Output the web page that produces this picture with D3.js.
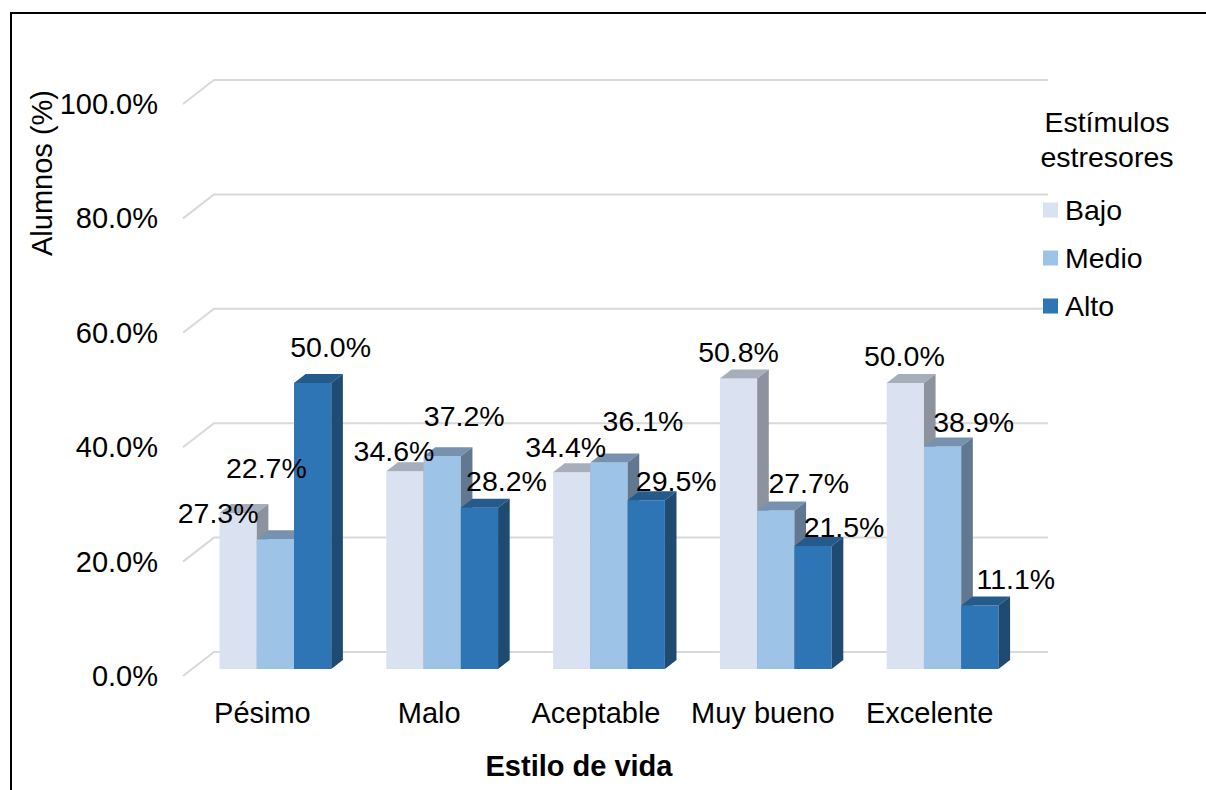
<!DOCTYPE html>
<html><head><meta charset="utf-8">
<script src="https://cdn.jsdelivr.net/npm/d3@7"></script>
<style>body{margin:0;background:#fff} text{font-family:Arial,"Liberation Sans",sans-serif;fill:#000}</style>
</head><body><svg id="c" width="1206" height="790"></svg>
<script>
// ---- data ----
const categories = ["Pésimo", "Malo", "Aceptable", "Muy bueno", "Excelente"];
const seriesNames = ["Bajo", "Medio", "Alto"];
const bajo  = [27.3, 34.6, 34.4, 50.8, 50.0];
const medio = [22.7, 37.2, 36.1, 27.7, 38.9];
const alto  = [50.0, 28.2, 29.5, 21.5, 11.1];
const yTicks = [0, 20, 40, 60, 80, 100];
const legendTitle = ["Estímulos", "estresores"];
const xTitle = "Estilo de vida";
const yTitle = "Alumnos (%)";

// ---- layout / style ----
const seriesValues = [bajo, medio, alto];
const faceColors = [
  {front: "#dae1f0", top: "#a7aebb", side: "#8c939e"},
  {front: "#9dc3e6", top: "#7792b1", side: "#627890"},
  {front: "#2e75b6", top: "#245a8c", side: "#1f4a72"}
];
// label offsets (px) from the top-centre of each bar's front face
const labelNudge = [
  [[-20, 0], [-11, -20], [-6, -25], [0, -26], [-1, -27]],
  [[-9, -71], [22, -40], [34, -42], [33, -28], [31, -25]],
  [[18, -36], [27, -27], [30, -19], [31, -19], [36, -27]]
];
const DX = 31, DY = 24;          // depth vector front -> back wall
const ZF = 0.29, ZB = 0.665;      // bar front/back depth

const svg = d3.select("#c");
const x = d3.scaleBand().domain(categories).range([183, 1017]).paddingInner(0.33).paddingOuter(0.165);
const y = d3.scaleLinear().domain([0, 100]).range([676, 104]);
const sub = d3.scaleBand().domain(seriesNames).range([0, x.bandwidth()]);
const P = (px, py, z) => [px + DX * z, py - DY * z];

// border
svg.append("path").attr("d", "M11,792V13H1208").attr("fill", "none").attr("stroke", "#000").attr("stroke-width", 2);

// gridlines (floor/wall)
const x0 = x.range()[0], x1 = x.range()[1];
svg.append("g").selectAll("path").data(yTicks).join("path")
  .attr("d", t => {
    const a = [x0, y(t)], b = P(x0, y(t), 1), c = P(x1, y(t), 1);
    return `M${a}L${b}L${c}`;
  })
  .attr("fill", "none").attr("stroke", "#d9d9d9").attr("stroke-width", 2);

// y tick labels
svg.append("g").selectAll("text").data(yTicks).join("text")
  .attr("x", 158).attr("y", t => y(t)).attr("text-anchor", "end")
  .attr("dominant-baseline", "central").attr("font-size", 29)
  .text(t => d3.format(".1f")(t) + "%");

// bars
const gb = svg.append("g");
categories.forEach((cat, ci) => {
  seriesNames.forEach((s, si) => {
    const v = seriesValues[si][ci];
    const xl = x(cat) + sub(s), xr = xl + sub.bandwidth();
    const yt = y(v), yb = y(0);
    const fl = P(xl, yt, ZF), fr = P(xr, yt, ZF), br = P(xr, yb, ZF);
    const bl = P(xl, yb, ZF);
    const tlb = P(xl, yt, ZB), trb = P(xr, yt, ZB), brb = P(xr, yb, ZB);
    const col = faceColors[si];
    gb.append("path").attr("d", `M${bl}L${fl}L${fr}L${br}Z`).attr("fill", col.front);
    gb.append("path").attr("d", `M${fl}L${tlb}L${trb}L${fr}Z`).attr("fill", col.top);
    gb.append("path").attr("d", `M${fr}L${trb}L${brb}L${br}Z`).attr("fill", col.side);
  });
});

// data labels
const gl = svg.append("g");
categories.forEach((cat, ci) => {
  seriesNames.forEach((s, si) => {
    const v = seriesValues[si][ci];
    const cx = x(cat) + sub(s) + sub.bandwidth() / 2;
    const p = P(cx, y(v), ZF);
    const n = labelNudge[si][ci];
    gl.append("text").attr("x", p[0] + n[0]).attr("y", p[1] + n[1])
      .attr("text-anchor", "middle").attr("dominant-baseline", "central")
      .attr("font-size", 28.5).text(d3.format(".1f")(v) + "%");
  });
});

// category labels
svg.append("g").selectAll("text").data(categories).join("text")
  .attr("x", d => x(d) + x.bandwidth() / 2 - 4).attr("y", 713)
  .attr("text-anchor", "middle").attr("dominant-baseline", "central")
  .attr("font-size", 29).text(d => d);

// axis titles
svg.append("text").attr("x", 579).attr("y", 766).attr("text-anchor", "middle")
  .attr("dominant-baseline", "central").attr("font-size", 29).attr("font-weight", "bold").text(xTitle);
svg.append("text").attr("transform", "translate(42,173) rotate(-90)").attr("text-anchor", "middle")
  .attr("dominant-baseline", "central").attr("font-size", 29).text(yTitle);

// legend
const lg = svg.append("g");
lg.selectAll("text.t").data(legendTitle).join("text").attr("class", "t")
  .attr("x", 1107).attr("y", (d, i) => 122 + i * 35).attr("text-anchor", "middle")
  .attr("dominant-baseline", "central").attr("font-size", 28.5).text(d => d);
seriesNames.forEach((s, i) => {
  const cy = 210 + i * 48;
  lg.append("rect").attr("x", 1043).attr("y", cy - 7.5).attr("width", 15).attr("height", 15).attr("fill", faceColors[i].front);
  lg.append("text").attr("x", 1065).attr("y", cy).attr("dominant-baseline", "central").attr("font-size", 28.5).text(s);
});
</script></body></html>
